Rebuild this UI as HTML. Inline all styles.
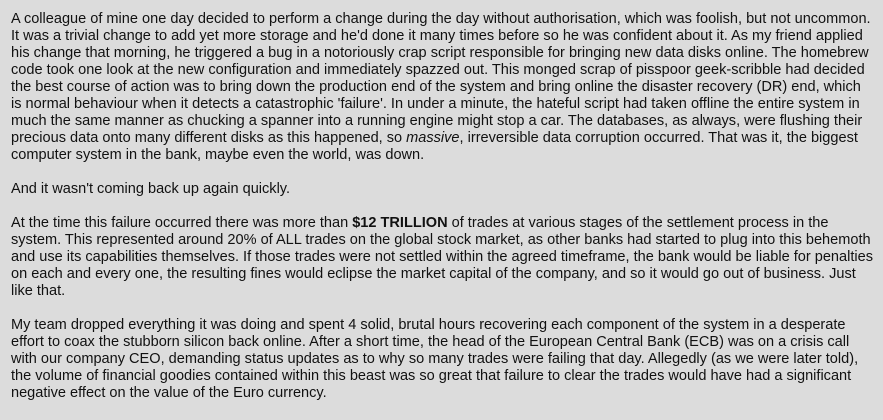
<!DOCTYPE html>
<html><head><meta charset="utf-8"><style>
html,body{margin:0;padding:0;background:#dcdcdc;width:883px;height:420px;overflow:hidden}
.wrap{position:absolute;left:11px;top:11px;width:872px;font-family:"Liberation Sans",Arial,sans-serif;font-size:14.55px;line-height:17px;color:#111;white-space:nowrap}
p{margin:0 0 17px 0}
</style></head><body>
<div class="wrap">
<p>A colleague of mine one day decided to perform a change during the day without authorisation, which was foolish, but not uncommon.<br>It was a trivial change to add yet more storage and he'd done it many times before so he was confident about it. As my friend applied<br>his change that morning, he triggered a bug in a notoriously crap script responsible for bringing new data disks online. The homebrew<br>code took one look at the new configuration and immediately spazzed out. This monged scrap of pisspoor geek-scribble had decided<br>the best course of action was to bring down the production end of the system and bring online the disaster recovery (DR) end, which<br>is normal behaviour when it detects a catastrophic 'failure'. In under a minute, the hateful script had taken offline the entire system in<br>much the same manner as chucking a spanner into a running engine might stop a car. The databases, as always, were flushing their<br>precious data onto many different disks as this happened, so <i>massive</i>, irreversible data corruption occurred. That was it, the biggest<br>computer system in the bank, maybe even the world, was down.</p>
<p>And it wasn't coming back up again quickly.</p>
<p>At the time this failure occurred there was more than <b>$12 TRILLION</b> of trades at various stages of the settlement process in the<br>system. This represented around 20% of ALL trades on the global stock market, as other banks had started to plug into this behemoth<br>and use its capabilities themselves. If those trades were not settled within the agreed timeframe, the bank would be liable for penalties<br>on each and every one, the resulting fines would eclipse the market capital of the company, and so it would go out of business. Just<br>like that.</p>
<p>My team dropped everything it was doing and spent 4 solid, brutal hours recovering each component of the system in a desperate<br>effort to coax the stubborn silicon back online. After a short time, the head of the European Central Bank (ECB) was on a crisis call<br>with our company CEO, demanding status updates as to why so many trades were failing that day. Allegedly (as we were later told),<br>the volume of financial goodies contained within this beast was so great that failure to clear the trades would have had a significant<br>negative effect on the value of the Euro currency.</p>
</div>
</body></html>
